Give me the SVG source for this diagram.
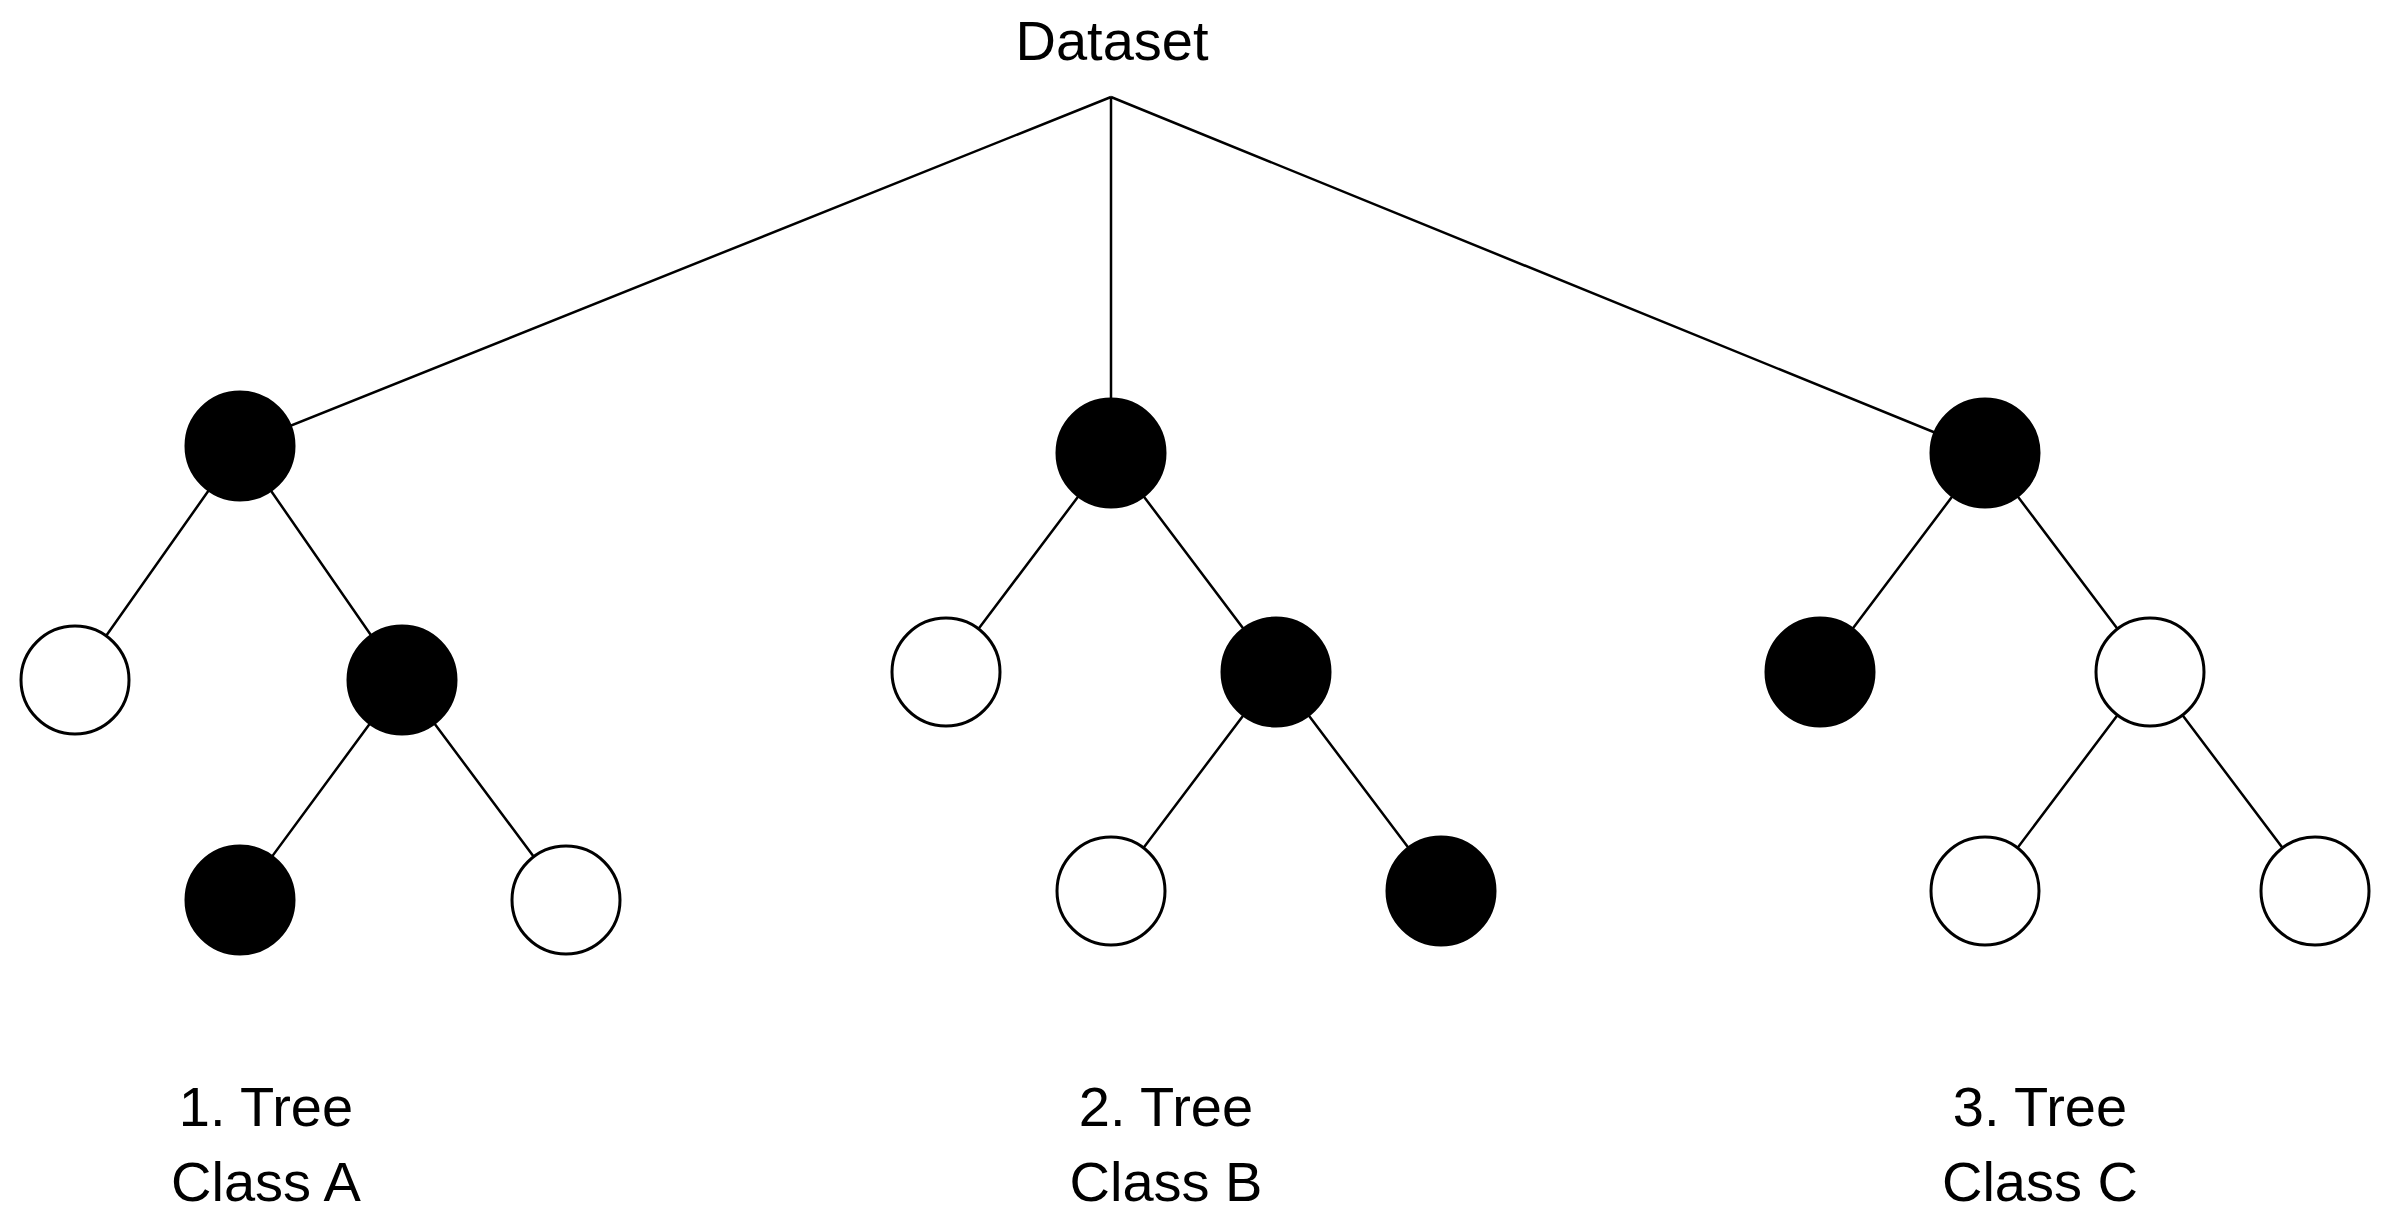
<svg xmlns="http://www.w3.org/2000/svg" width="2386" height="1222" viewBox="0 0 2386 1222">
<style>
.b{fill:#000;stroke:#000;stroke-width:3}
.w{fill:#fff;stroke:#000;stroke-width:3}
.e{stroke:#000;stroke-width:2.5;fill:none}
text{font-family:"Liberation Sans",Arial,sans-serif;font-size:56px;fill:#000;text-anchor:middle}
</style>
<rect width="2386" height="1222" fill="#fff"/>
<g id="connectors">
<path class="e" d="M1111 97L240 446M1111 97L1111 453M1111 97L1985 453"/>
<path class="e" d="M240 446L75 680M240 446L402 680M402 680L240 900M402 680L566 900"/>
<path class="e" d="M1111 453L946 672M1111 453L1276 672M1276 672L1111 891M1276 672L1441 891"/>
<path class="e" d="M1985 453L1820 672M1985 453L2150 672M2150 672L1985 891M2150 672L2315 891"/>
</g>
<g id="dataset"><text x="1112" y="60">Dataset</text></g>
<g id="t1root"><circle class="b" cx="240" cy="446" r="54"/></g>
<g id="t1l"><circle class="w" cx="75" cy="680" r="54"/></g>
<g id="t1r"><circle class="b" cx="402" cy="680" r="54"/></g>
<g id="t1rl"><circle class="b" cx="240" cy="900" r="54"/></g>
<g id="t1rr"><circle class="w" cx="566" cy="900" r="54"/></g>
<g id="t2root"><circle class="b" cx="1111" cy="453" r="54"/></g>
<g id="t2l"><circle class="w" cx="946" cy="672" r="54"/></g>
<g id="t2r"><circle class="b" cx="1276" cy="672" r="54"/></g>
<g id="t2rl"><circle class="w" cx="1111" cy="891" r="54"/></g>
<g id="t2rr"><circle class="b" cx="1441" cy="891" r="54"/></g>
<g id="t3root"><circle class="b" cx="1985" cy="453" r="54"/></g>
<g id="t3l"><circle class="b" cx="1820" cy="672" r="54"/></g>
<g id="t3r"><circle class="w" cx="2150" cy="672" r="54"/></g>
<g id="t3rl"><circle class="w" cx="1985" cy="891" r="54"/></g>
<g id="t3rr"><circle class="w" cx="2315" cy="891" r="54"/></g>
<g id="label1"><text x="266" y="1126">1. Tree</text><text x="266" y="1201">Class A</text></g>
<g id="label2"><text x="1166" y="1126">2. Tree</text><text x="1166" y="1201">Class B</text></g>
<g id="label3"><text x="2040" y="1126">3. Tree</text><text x="2040" y="1201">Class C</text></g>
</svg>
